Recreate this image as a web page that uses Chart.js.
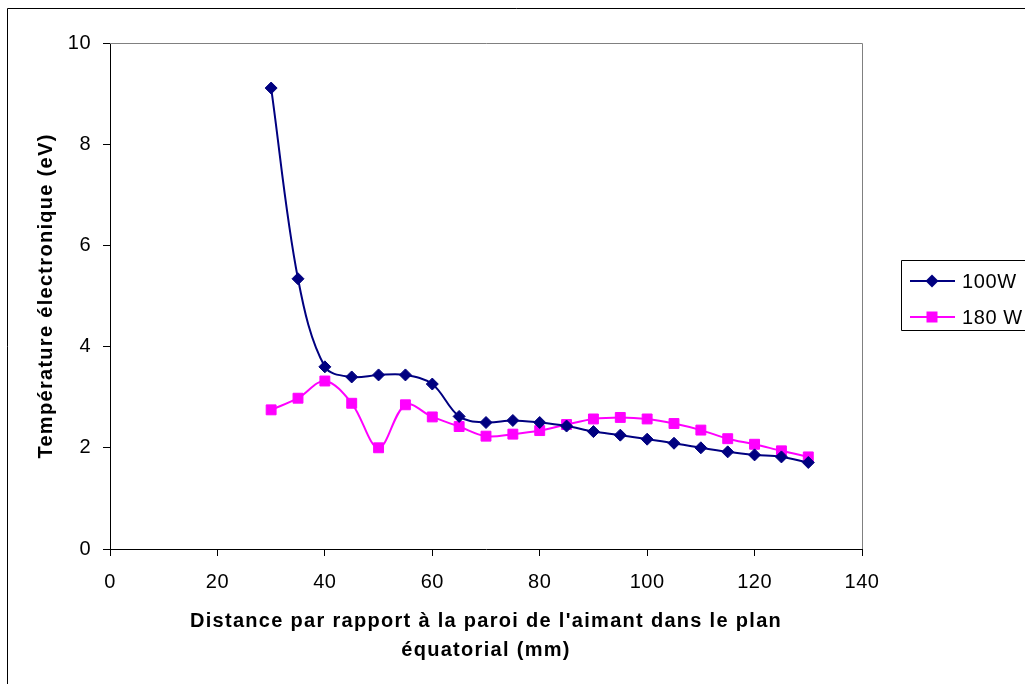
<!DOCTYPE html>
<html><head><meta charset="utf-8">
<script src="https://cdn.jsdelivr.net/npm/chart.js@4/dist/chart.umd.min.js"></script>
<style>html,body{margin:0;padding:0;background:#fff;overflow:hidden;}</style>
</head><body><canvas id="c" width="1025" height="684"></canvas>
<script>
const distances = [30,35,40,45,50,55,60,65,70,75,80,85,90,95,100,105,110,115,120,125,130];
const temp100W = [9.11,5.34,3.60,3.40,3.44,3.44,3.26,2.62,2.50,2.54,2.50,2.43,2.32,2.25,2.17,2.09,2.00,1.92,1.86,1.82,1.71];
const temp180W = [2.75,2.98,3.32,2.88,2.00,2.85,2.61,2.42,2.23,2.27,2.34,2.46,2.57,2.60,2.57,2.48,2.35,2.18,2.07,1.94,1.82];
const seriesLabels = ['100W','180 W'];
const xTicks = [0,20,40,60,80,100,120,140];
const yTicks = [0,2,4,6,8,10];
const xTitle = ["Distance par rapport à la paroi de l'aimant dans le plan","équatorial (mm)"];
const yTitle = "Température électronique (eV)";

const FONT = "'Liberation Sans', Arial, sans-serif";
const toXY = (ys) => distances.map((x,i)=>({x:x,y:ys[i]}));

function spaced(scale, method, spacing){
  if (scale['_sp_'+method]) return;
  scale['_sp_'+method] = true;
  const orig = Object.getPrototypeOf(scale)[method];
  scale[method] = function(){
    const ctx = this.ctx;
    const prev = ctx.letterSpacing;
    ctx.letterSpacing = spacing;
    const r = orig.apply(this, arguments);
    ctx.letterSpacing = prev || '0px';
    return r;
  };
}

const framePlugin = {
  id:'frame',
  beforeDatasetsDraw(chart){
    const {ctx, chartArea:a} = chart;
    ctx.save();
    ctx.strokeStyle = '#808080'; ctx.lineWidth = 1;
    ctx.beginPath();
    ctx.moveTo(a.left, a.top+0.5); ctx.lineTo(a.right+0.5, a.top+0.5);
    ctx.lineTo(a.right+0.5, a.bottom);
    ctx.stroke();
    ctx.restore();
  },
  afterDraw(chart){
    const ctx = chart.ctx;
    ctx.save();
    ctx.strokeStyle = '#000'; ctx.lineWidth = 1;
    ctx.beginPath();
    ctx.moveTo(7.5, 700); ctx.lineTo(7.5, 8.5); ctx.lineTo(1040, 8.5);
    ctx.stroke();
    ctx.beginPath();
    ctx.rect(901.5, 260.5, 140, 70);
    ctx.stroke();
    const rows = [281, 317];
    chart.data.datasets.forEach((ds, i) => {
      const y = rows[i];
      ctx.strokeStyle = ds.borderColor; ctx.lineWidth = 2;
      ctx.beginPath(); ctx.moveTo(910, y); ctx.lineTo(955, y); ctx.stroke();
      ctx.fillStyle = ds.pointBackgroundColor;
      const cx = 932;
      ctx.beginPath();
      if (ds.pointStyle === 'rectRot') {
        const r = 6.5;
        ctx.moveTo(cx, y-r); ctx.lineTo(cx+r, y); ctx.lineTo(cx, y+r); ctx.lineTo(cx-r, y); ctx.closePath();
      } else {
        ctx.rect(cx-5.5, y-5.5, 11, 11);
      }
      ctx.fill();
      ctx.fillStyle = '#000';
      ctx.font = '20px ' + FONT;
      ctx.letterSpacing = '0.6px';
      ctx.textBaseline = 'middle'; ctx.textAlign = 'left';
      ctx.fillText(ds.label, 962, y+1);
      ctx.letterSpacing = '0px';
    });
    ctx.restore();
  }
};

new Chart(document.getElementById('c'), {
  type: 'line',
  data: {
    datasets: [
      { label: seriesLabels[0], data: toXY(temp100W), borderColor:'#000080', backgroundColor:'#000080',
        pointBackgroundColor:'#000080', pointBorderColor:'#000080', pointStyle:'rectRot', pointRadius:6, pointBorderWidth:1,
        borderWidth:2, tension:0.35, fill:false },
      { label: seriesLabels[1], data: toXY(temp180W), borderColor:'#FF00FF', backgroundColor:'#FF00FF',
        pointBackgroundColor:'#FF00FF', pointBorderColor:'#FF00FF', pointStyle:'rect', pointRadius:7, pointBorderWidth:1,
        borderWidth:2, tension:0.35, fill:false }
    ]
  },
  options: {
    responsive:false, animation:false, devicePixelRatio:1,
    layout:{ padding:{ left:0, top:43, right:163, bottom:0 } },
    plugins:{ legend:{display:false}, tooltip:{enabled:false} },
    scales:{
      x:{ type:'linear', min:0, max:140,
        afterBuildTicks(s){ s.ticks = xTicks.map(v=>({value:v})); },
        afterFit(s){ s.height = 135; spaced(s,'drawTitle','1.3px'); spaced(s,'drawLabels','0.5px'); },
        grid:{ drawOnChartArea:false, tickLength:7, color:'#000', tickColor:'#000' },
        border:{ color:'#000', width:1 },
        ticks:{ color:'#000', font:{family:FONT, size:20}, padding:14, maxRotation:0 },
        title:{ display:true, text:xTitle, color:'#000', font:{family:FONT, size:20, weight:'bold', lineHeight:'29px'}, padding:{top:0,bottom:19.5} }
      },
      y:{ type:'linear', min:0, max:10,
        afterBuildTicks(s){ s.ticks = yTicks.map(v=>({value:v})); },
        afterFit(s){ s.width = 110; spaced(s,'drawTitle','1.3px'); spaced(s,'drawLabels','0.5px'); },
        grid:{ drawOnChartArea:false, tickLength:7, color:'#000', tickColor:'#000' },
        border:{ color:'#000', width:1 },
        ticks:{ color:'#000', font:{family:FONT, size:20}, padding:12 },
        title:{ display:true, text:yTitle, color:'#000', font:{family:FONT, size:20, weight:'bold'}, padding:{top:34,bottom:0} }
      }
    }
  },
  plugins:[framePlugin]
});
</script></body></html>
